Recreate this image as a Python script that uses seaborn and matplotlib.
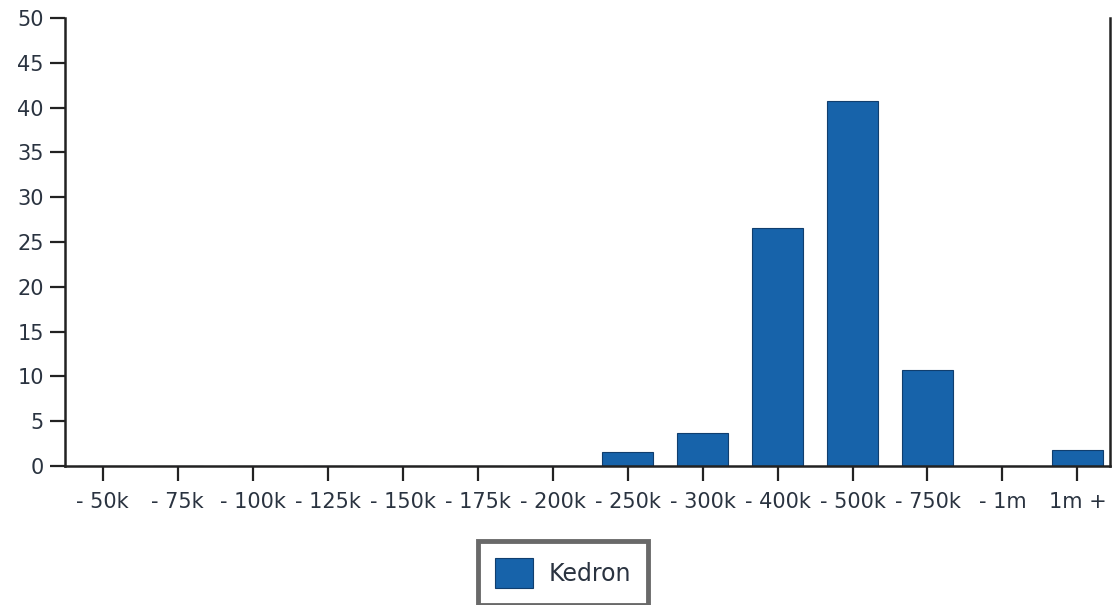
import matplotlib
matplotlib.use("Agg")
import matplotlib.pyplot as plt
import seaborn as sns
import pandas as pd

# price bands and share of sales
bands = ["- 50k", "- 75k", "- 100k", "- 125k", "- 150k", "- 175k", "- 200k",
         "- 250k", "- 300k", "- 400k", "- 500k", "- 750k", "- 1m", "1m +"]
kedron = [0, 0, 0, 0, 0, 0, 0, 1.6, 3.7, 26.6, 40.7, 10.7, 0, 1.8]
series_name = "Kedron"
yticks = list(range(0, 55, 5))

df = pd.DataFrame({"band": bands, "value": kedron})

sns.set_style("white")
plt.rcParams['font.family'] = ['DejaVu Sans']

fig = plt.figure(figsize=(11.13, 6.05), dpi=100)
fig.set_facecolor('white')
ax = fig.add_axes([0.058, 0.23, 0.939, 0.74])

sns.barplot(data=df, x="band", y="value", color="#1763aa", saturation=1,
            width=0.67, edgecolor="#103e6e", linewidth=0.8,
            label=series_name, ax=ax)

ax.set_ylim(0, 50)
ax.set_xlim(-0.51, 13.43)
ax.set_yticks(yticks)
ax.set_xlabel("")
ax.set_ylabel("")

txt = "#2a3340"
ax.tick_params(axis="y", direction="out", length=11, width=1.6, color="#222222",
               labelsize=15, labelcolor=txt, pad=4, left=True)
ax.tick_params(axis="x", direction="out", length=11, width=1.6, color="#222222",
               labelsize=15, labelcolor=txt, pad=8, bottom=True)

for side in ["left", "bottom", "right"]:
    ax.spines[side].set_visible(True)
    ax.spines[side].set_color("#222222")
    ax.spines[side].set_linewidth(1.8)
ax.spines["top"].set_visible(False)

leg = ax.legend(loc="center", bbox_to_anchor=(0.506, 0.053),
                bbox_transform=fig.transFigure, fontsize=17,
                frameon=True, fancybox=False, handlelength=1.6,
                handleheight=1.6, borderpad=0.7, borderaxespad=0,
                handletextpad=0.7)
leg.get_frame().set_edgecolor("#444444")
leg.get_frame().set_linewidth(3.5)
for t in leg.get_texts():
    t.set_color(txt)

fig.savefig("out.png", dpi=100, facecolor="white")
